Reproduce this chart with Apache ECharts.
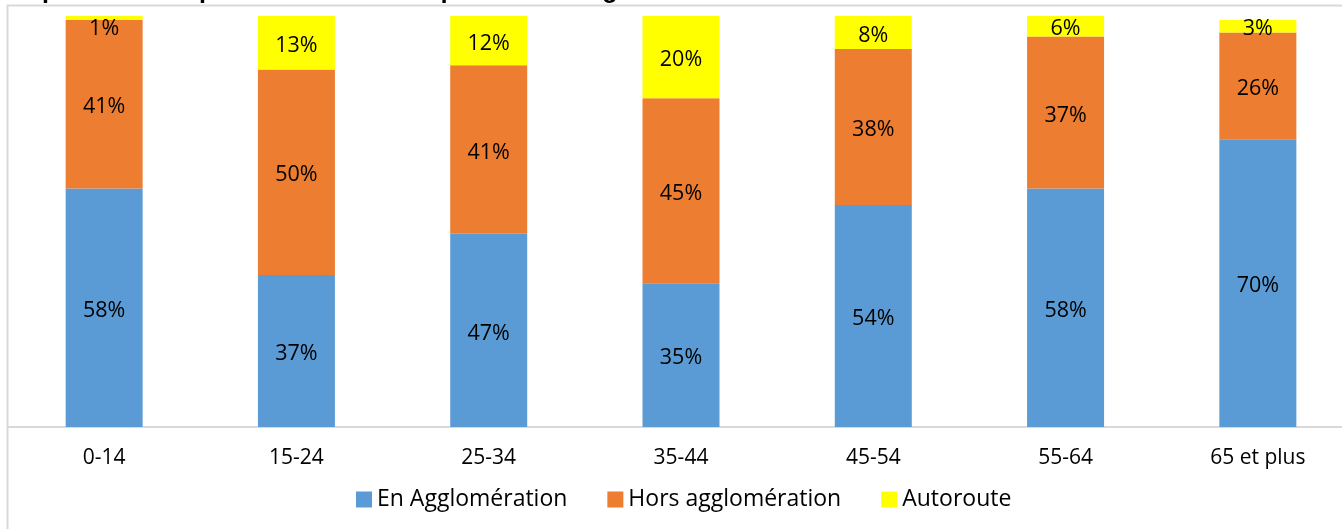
<!DOCTYPE html>
<html>
<head>
<meta charset="utf-8">
<style>
  html, body { margin: 0; padding: 0; background: #ffffff; overflow: hidden; }
  #chart { width: 1354px; height: 529px; }
</style>
<script src="https://cdn.jsdelivr.net/npm/echarts@6/dist/echarts.min.js"></script>
</head>
<body>
<div id="chart"></div>
<script>
// Age groups on the horizontal axis
const ageGroups = ['0-14', '15-24', '25-34', '35-44', '45-54', '55-64', '65 et plus'];

// Share of deaths (%) per setting, for each age group
const enAgglomeration = [58, 37, 47, 35, 54, 58, 70];
const horsAgglomeration = [41, 50, 41, 45, 38, 37, 26];
const autoroute = [1, 13, 12, 20, 8, 6, 3];

const titleText = "Répartition des piétons tués de chaque classe d'âge selon le milieu";

const labelFont = '"Open Sans", "Liberation Sans", sans-serif';

const chart = echarts.init(document.getElementById('chart'), null, { renderer: 'canvas' });

// Segments too thin to hold their label get the label nudged downwards
function toItems(values) {
  return values.map(v => v < 2 ? { value: v, label: { offset: [0, 11] } } : v);
}

function makeSeries(name, values, color) {
  return {
    name: name,
    type: 'bar',
    stack: 'total',
    barWidth: 77,
    data: toItems(values),
    itemStyle: { color: color },
    label: {
      show: true,
      position: 'inside',
      offset: [0, 3],
      formatter: '{c}%',
      color: '#000000',
      fontFamily: labelFont,
      fontSize: 21.5
    }
  };
}

chart.setOption({
  animation: false,
  backgroundColor: '#ffffff',
  grid: { left: 8, right: 0, top: 16, bottom: 102 },
  xAxis: {
    type: 'category',
    data: ageGroups,
    axisLine: { show: true, lineStyle: { color: '#d9d9d9', width: 2 } },
    axisTick: { show: false },
    axisLabel: {
      color: '#000000',
      fontFamily: labelFont,
      fontSize: 21,
      margin: 21
    }
  },
  yAxis: {
    type: 'value',
    min: 0,
    max: 100,
    show: false,
    splitLine: { show: false }
  },
  legend: {
    left: 351,
    top: 483,
    itemWidth: 16,
    itemHeight: 16,
    itemGap: 40,
    icon: 'rect',
    textStyle: {
      color: '#000000',
      fontFamily: labelFont,
      fontSize: 23
    },
    data: ['En Agglomération', 'Hors agglomération', 'Autoroute']
  },
  graphic: [
    {
      type: 'rect',
      z: 0,
      silent: true,
      shape: { x: 7.5, y: 5.5, width: 1400, height: 600 },
      style: { fill: 'none', stroke: '#d9d9d9', lineWidth: 2 }
    },
    {
      type: 'text',
      z: 100,
      silent: true,
      x: 10,
      y: -9,
      style: {
        text: titleText,
        fill: '#000000',
        font: 'bold 25px "Liberation Sans", Arial, sans-serif',
        align: 'left',
        verticalAlign: 'middle'
      }
    }
  ],
  series: [
    makeSeries('En Agglomération', enAgglomeration, '#5b9bd5'),
    makeSeries('Hors agglomération', horsAgglomeration, '#ed7d31'),
    makeSeries('Autoroute', autoroute, '#ffff00')
  ]
});
</script>
</body>
</html>
